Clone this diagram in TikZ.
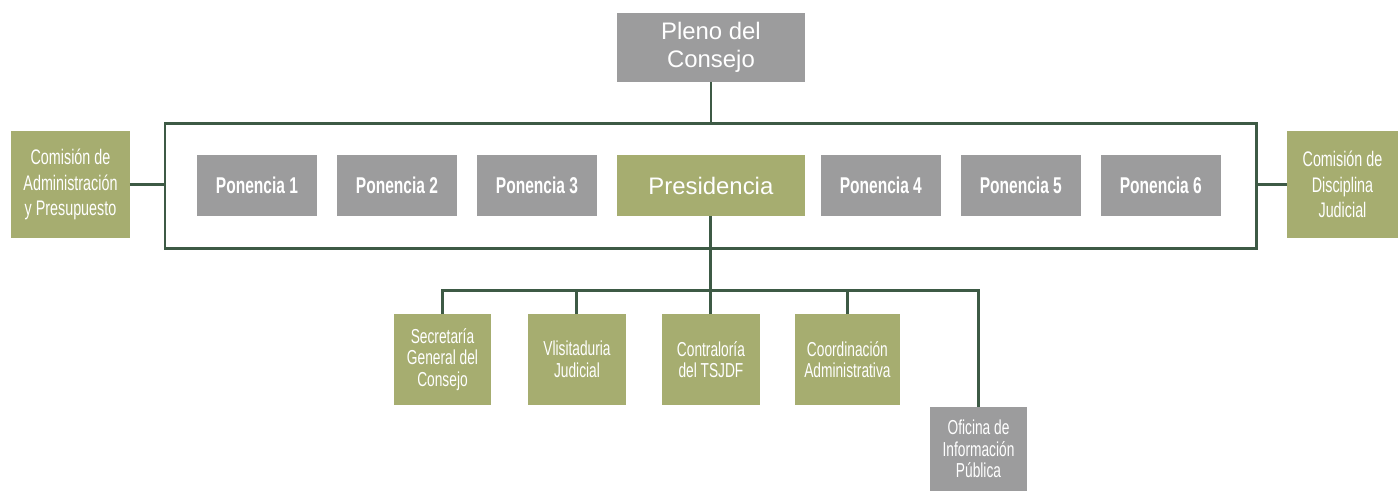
\documentclass[tikz,border=0pt]{standalone}
\usepackage{fontspec}
\setmainfont{Liberation Sans}
\newfontfamily\narrowfont[FakeStretch=0.68]{Liberation Sans}
\usetikzlibrary{positioning}
\definecolor{olivebox}{HTML}{A6AD70}
\definecolor{greybox}{HTML}{9C9C9D}
\definecolor{darkline}{HTML}{3D5A45}
\tikzset{
	every node/.style={text=white, inner sep=0pt, outer sep=0pt, align=center},
	wire/.style={draw=darkline, line width=1.7pt},
}

\begin{document}
\begin{tikzpicture}[
            x=0.02cm, y=-0.02cm,
            topbox/.style={fill=greybox, minimum width=3.76cm, font=\fontsize{13.6}{16}\selectfont},
            ponbox/.style={fill=greybox, minimum width=2.4cm, minimum height=1.22cm,
                font=\narrowfont\bfseries\fontsize{13}{15}\selectfont},
            sidebox/.style={fill=olivebox, minimum height=2.14cm,
                font=\narrowfont\fontsize{12}{14.5}\selectfont},
            unitbox/.style={fill=olivebox, minimum height=1.82cm,
                font=\narrowfont\fontsize{11.5}{12.3}\selectfont},
            frame/.style={draw=darkline, line width=1.7pt}
        ]
        \useasboundingbox (0,0) rectangle (1398,491);

        % pleno y marco
        \node[topbox, minimum height=1.38cm, anchor=north west] (pleno) at (617,13) {Pleno del\\Consejo};
        \node[frame, minimum width=21.84cm, minimum height=2.52cm, anchor=north west] (marco) at (165,123) {};

        % ponencias
        \node[ponbox, anchor=north west] (pon1) at (197,155) {Ponencia 1};
        \node[ponbox, right=0.4cm of pon1] (pon2) {Ponencia 2};
        \node[ponbox, right=0.4cm of pon2] (pon3) {Ponencia 3};
        \node[topbox, fill=olivebox, minimum height=1.22cm, right=0.4cm of pon3] (pres) {Presidencia};
        \node[ponbox, right=0.32cm of pres] (pon4) {Ponencia 4};
        \node[ponbox, right=0.4cm of pon4] (pon5) {Ponencia 5};
        \node[ponbox, right=0.4cm of pon5] (pon6) {Ponencia 6};

        % comisiones
        \node[sidebox, minimum width=2.38cm, anchor=north west] (cap) at (11,131) {Comisión de\\Administración\\y Presupuesto};
        \node[sidebox, minimum width=2.22cm, anchor=north west] (cdj) at (1287,131) {Comisión de\\Disciplina\\Judicial};

        % unidades
        \node[unitbox, minimum width=1.94cm, anchor=north west] (sec) at (394,314) {Secretaría\\General del\\Consejo};
        \node[unitbox, minimum width=1.96cm, right=0.74cm of sec] (vis) {Vlisitaduria\\Judicial};
        \node[unitbox, minimum width=1.96cm, right=0.72cm of vis] (con) {Contraloría\\del TSJDF};
        \node[unitbox, minimum width=2.1cm, right=0.7cm of con] (coo) {Coordinación\\Administrativa};
        \node[unitbox, fill=greybox, minimum width=1.94cm, minimum height=1.68cm, anchor=north west] (ofi) at (930,407) {Oficina de\\Información\\Pública};

        % conectores
        \draw[wire] (pleno.south) -- (pleno.south |- marco.north);
        \draw[wire] (cap.east) -- (cap.east -| marco.west);
        \draw[wire] (cdj.west) -- (cdj.west -| marco.east);
        \coordinate (bus) at (711,290);
        \draw[wire] (pres.south) -- (pres.south |- bus);
        \draw[wire] (sec.north) |- (bus) -| (ofi.north);
        \foreach \u in {vis,con,coo}
            \draw[wire] (\u.north) -- (\u.north |- bus);
    \end{tikzpicture}
\end{document}
